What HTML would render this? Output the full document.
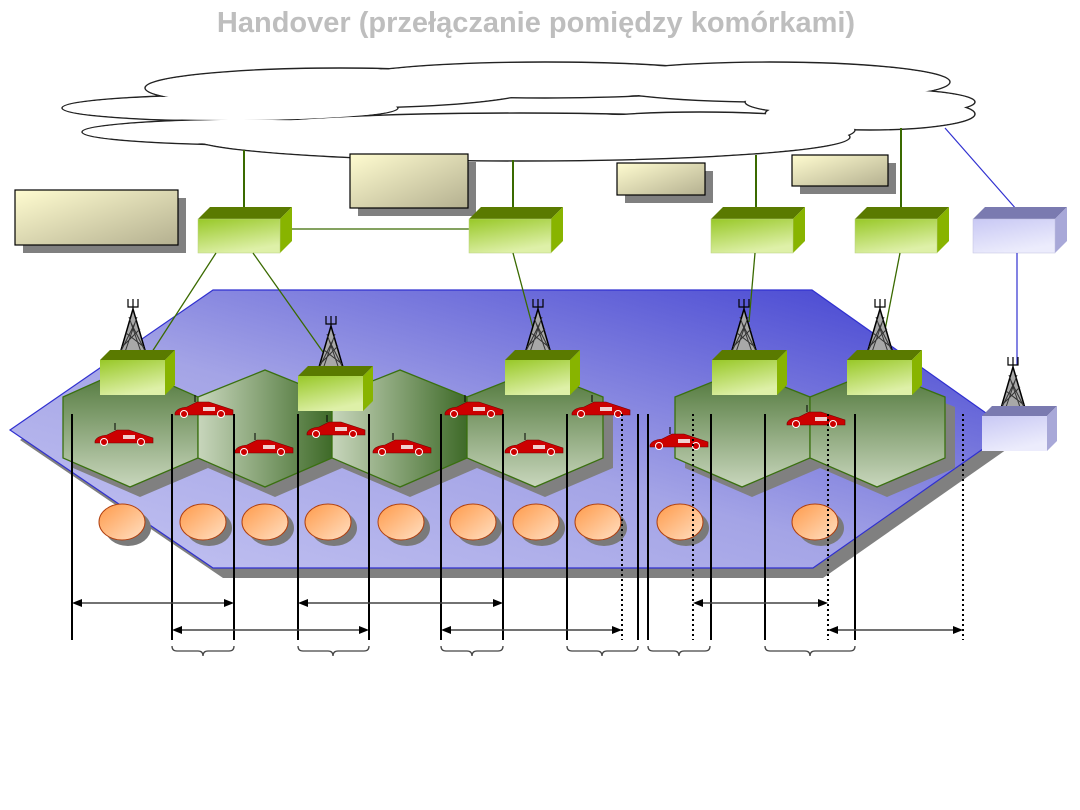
<!DOCTYPE html>
<html><head><meta charset="utf-8"><style>
html,body{margin:0;padding:0;background:#fff;width:1080px;height:810px;overflow:hidden}
</style></head><body>
<svg width="1080" height="810" viewBox="0 0 1080 810" xmlns="http://www.w3.org/2000/svg">
<defs>
<linearGradient id="plane" x1="0" y1="1" x2="1" y2="0">
<stop offset="0" stop-color="#c4c4f2"/><stop offset="0.45" stop-color="#a4a4e6"/><stop offset="1" stop-color="#3c3cd0"/></linearGradient>
<linearGradient id="hexv" x1="0" y1="0" x2="0" y2="1">
<stop offset="0" stop-color="#4c7436"/><stop offset="1" stop-color="#c8d6bc"/></linearGradient>
<linearGradient id="hexh" x1="0" y1="0" x2="1" y2="0">
<stop offset="0" stop-color="#c8d6bc"/><stop offset="1" stop-color="#3e6a28"/></linearGradient>
<linearGradient id="gfront" x1="0" y1="0" x2="0.4" y2="1">
<stop offset="0" stop-color="#98c828"/><stop offset="1" stop-color="#def0a8"/></linearGradient>
<linearGradient id="bfront" x1="0" y1="0" x2="0.4" y2="1">
<stop offset="0" stop-color="#c8c8f4"/><stop offset="1" stop-color="#ececfc"/></linearGradient>
<linearGradient id="note" x1="0" y1="0" x2="1" y2="1">
<stop offset="0" stop-color="#fffcd0"/><stop offset="1" stop-color="#b4b090"/></linearGradient>
<linearGradient id="orange" x1="0" y1="0" x2="1" y2="1">
<stop offset="0" stop-color="#ff9a4a"/><stop offset="1" stop-color="#ffe0c4"/></linearGradient>
<g id="gbox">
<polygon points="0,12 12,0 94,0 82,12" fill="#5a7a00"/>
<polygon points="82,12 94,0 94,34 82,46" fill="#88b400"/>
<rect x="0" y="12" width="82" height="34" fill="url(#gfront)" stroke="#b8d080" stroke-width="0.5"/>
</g>
<g id="gbox2">
<polygon points="0,10 10,0 75,0 65,10" fill="#5a7a00"/>
<polygon points="65,10 75,0 75,35 65,45" fill="#88b400"/>
<rect x="0" y="10" width="65" height="35" fill="url(#gfront)"/>
</g>
<g id="tower">
<polygon points="0,-48 -14,0 14,0" fill="#a8a8a8" stroke="#000" stroke-width="1.5"/>
<path d="M-11,-10 L7,-28 M-7,-24 L11,-10 M-9,-2 L4,-40 M9,-2 L-4,-40 M-12,-6 L2,-34 M12,-6 L-2,-34" stroke="#333" stroke-width="1" fill="none"/>
<path d="M0,-48 V-58 M-5,-58 V-50 H5 V-58" stroke="#000" stroke-width="1.2" fill="none"/>
</g>
<g id="car">
<path d="M0,8 Q2,3 12,2 L22,-3 L34,-3 L58,5 L58,10 L0,10 Z" fill="#cc0000" stroke="#700" stroke-width="0.6"/>
<rect x="28" y="2" width="12" height="4" fill="#f0d0d0"/>
<circle cx="9" cy="9" r="3.5" fill="#c00" stroke="#fff" stroke-width="1"/>
<circle cx="46" cy="9" r="3.5" fill="#c00" stroke="#fff" stroke-width="1"/>
<line x1="20" y1="-3" x2="20" y2="-10" stroke="#000"/>
</g>
<g id="egg">
<ellipse cx="6" cy="6" rx="23" ry="18" fill="#7a7a7a"/>
<ellipse cx="0" cy="0" rx="23" ry="18" fill="url(#orange)" stroke="#b04010" stroke-width="1"/>
</g>
</defs>

<text x="536" y="32" text-anchor="middle" font-family="Liberation Sans, sans-serif" font-weight="bold" font-size="29" fill="#bebebe">Handover (przełączanie pomiędzy komórkami)</text>

<!-- cloud -->
<g stroke="#222" stroke-width="1.4" fill="#fff">
<ellipse cx="230" cy="108" rx="168" ry="13"/>
<ellipse cx="260" cy="132" rx="178" ry="13"/>
<ellipse cx="340" cy="88" rx="195" ry="20"/>
<ellipse cx="545" cy="80" rx="200" ry="18"/>
<ellipse cx="770" cy="82" rx="180" ry="20"/>
<ellipse cx="860" cy="102" rx="115" ry="14"/>
<ellipse cx="870" cy="114" rx="105" ry="16"/>
<ellipse cx="520" cy="137" rx="330" ry="24"/>
<ellipse cx="700" cy="130" rx="155" ry="18"/>
</g>
<g fill="#fff">
<ellipse cx="230" cy="108" rx="167" ry="12"/>
<ellipse cx="260" cy="132" rx="177" ry="12"/>
<ellipse cx="340" cy="88" rx="194" ry="19"/>
<ellipse cx="545" cy="80" rx="199" ry="17"/>
<ellipse cx="770" cy="82" rx="179" ry="19"/>
<ellipse cx="860" cy="102" rx="114" ry="13"/>
<ellipse cx="870" cy="114" rx="104" ry="15"/>
<ellipse cx="520" cy="137" rx="329" ry="23"/>
<ellipse cx="700" cy="130" rx="154" ry="17"/>
</g>

<!-- connectors top -->
<g stroke="#3a6a00" stroke-width="2">
<line x1="244" y1="150" x2="244" y2="210"/>
<line x1="513" y1="160" x2="513" y2="210"/>
<line x1="756" y1="155" x2="756" y2="210"/>
<line x1="901" y1="128" x2="901" y2="210"/>
</g>
<line x1="280" y1="229" x2="469" y2="229" stroke="#3a6a00" stroke-width="1.2"/>
<line x1="945" y1="128" x2="1017" y2="210" stroke="#3030d0" stroke-width="1.2"/>

<!-- notes -->
<rect x="23" y="198" width="163" height="55" fill="#808080"/>
<rect x="15" y="190" width="163" height="55" fill="url(#note)" stroke="#000" stroke-width="1.2"/>
<rect x="358" y="162" width="118" height="54" fill="#808080"/>
<rect x="350" y="154" width="118" height="54" fill="url(#note)" stroke="#000" stroke-width="1.2"/>
<rect x="625" y="171" width="88" height="32" fill="#808080"/>
<rect x="617" y="163" width="88" height="32" fill="url(#note)" stroke="#000" stroke-width="1.2"/>
<rect x="800" y="163" width="96" height="31" fill="#808080"/>
<rect x="792" y="155" width="96" height="31" fill="url(#note)" stroke="#000" stroke-width="1.2"/>

<!-- plane -->
<polygon points="20,440 223,300 822,300 1020,440 823,578 223,578" fill="#808080"/>
<polygon points="10,430 213,290 812,290 1010,430 813,568 213,568" fill="url(#plane)" stroke="#3030d0" stroke-width="1.2"/>

<!-- hex shadows -->
<g fill="#808080">
<polygon points="73,407 140,377 207,407 208,468 140,497 73,468"/>
<polygon points="208,407 275,380 342,407 342,468 275,497 208,468"/>
<polygon points="342,407 410,380 477,407 477,468 410,497 342,468"/>
<polygon points="477,407 545,380 613,407 613,468 545,497 477,468"/>
<polygon points="685,407 752,380 820,407 820,468 752,497 685,468"/>
<polygon points="820,407 887,380 955,407 955,468 887,497 820,468"/>
</g>
<g stroke="#3a7010" stroke-width="1.3">
<polygon points="63,397 130,367 198,397 198,458 130,487 63,458" fill="url(#hexv)"/>
<polygon points="198,397 265,370 332,397 332,458 265,487 198,458" fill="url(#hexh)"/>
<polygon points="332,397 400,370 467,397 467,458 400,487 332,458" fill="url(#hexh)"/>
<polygon points="467,397 535,370 603,397 603,458 535,487 467,458" fill="url(#hexv)"/>
<polygon points="675,397 742,370 810,397 810,458 742,487 675,458" fill="url(#hexv)"/>
<polygon points="810,397 877,370 945,397 945,458 877,487 810,458" fill="url(#hexv)"/>
</g>

<!-- upper boxes -->
<use href="#gbox" x="198" y="207"/>
<use href="#gbox" x="469" y="207"/>
<use href="#gbox" x="711" y="207"/>
<use href="#gbox" x="855" y="207"/>
<g transform="translate(973,207)">
<polygon points="0,12 12,0 94,0 82,12" fill="#7a7ab0"/>
<polygon points="82,12 94,0 94,34 82,46" fill="#a8a8d8"/>
<rect x="0" y="12" width="82" height="34" fill="url(#bfront)" stroke="#c0c0e0" stroke-width="0.5"/>
</g>

<!-- lines to towers -->
<g stroke="#3a6a00" stroke-width="1.3">
<line x1="216" y1="253" x2="150" y2="355"/>
<line x1="253" y1="253" x2="323" y2="352"/>
<line x1="513" y1="253" x2="533" y2="328"/>
<line x1="755" y1="253" x2="749" y2="322"/>
<line x1="900" y1="253" x2="885" y2="330"/>
</g>
<line x1="1017" y1="253" x2="1017" y2="365" stroke="#3030d0" stroke-width="1.2"/>

<!-- towers -->
<use href="#tower" x="133" y="357"/>
<use href="#tower" x="331" y="374"/>
<use href="#tower" x="538" y="357"/>
<use href="#tower" x="744" y="357"/>
<use href="#tower" x="880" y="357"/>
<use href="#tower" x="1013" y="415"/>

<!-- lower boxes -->
<use href="#gbox2" x="100" y="350"/>
<use href="#gbox2" x="298" y="366"/>
<use href="#gbox2" x="505" y="350"/>
<use href="#gbox2" x="712" y="350"/>
<use href="#gbox2" x="847" y="350"/>
<g transform="translate(982,406)">
<polygon points="0,10 10,0 75,0 65,10" fill="#7a7ab0"/>
<polygon points="65,10 75,0 75,35 65,45" fill="#a8a8d8"/>
<rect x="0" y="10" width="65" height="35" fill="url(#bfront)"/>
</g>

<!-- eggs -->
<use href="#egg" x="122" y="522"/>
<use href="#egg" x="203" y="522"/>
<use href="#egg" x="265" y="522"/>
<use href="#egg" x="328" y="522"/>
<use href="#egg" x="401" y="522"/>
<use href="#egg" x="473" y="522"/>
<use href="#egg" x="536" y="522"/>
<use href="#egg" x="598" y="522"/>
<use href="#egg" x="680" y="522"/>
<use href="#egg" x="815" y="522"/>

<!-- cars -->
<use href="#car" x="95" y="433"/>
<use href="#car" x="175" y="405"/>
<use href="#car" x="235" y="443"/>
<use href="#car" x="307" y="425"/>
<use href="#car" x="373" y="443"/>
<use href="#car" x="445" y="405"/>
<use href="#car" x="505" y="443"/>
<use href="#car" x="572" y="405"/>
<use href="#car" x="650" y="437"/>
<use href="#car" x="787" y="415"/>

<!-- vertical lines -->
<g stroke="#000" stroke-width="2">
<line x1="72" y1="414" x2="72" y2="640"/><line x1="172" y1="414" x2="172" y2="640"/>
<line x1="234" y1="414" x2="234" y2="640"/><line x1="298" y1="414" x2="298" y2="640"/>
<line x1="369" y1="414" x2="369" y2="640"/><line x1="441" y1="414" x2="441" y2="640"/>
<line x1="503" y1="414" x2="503" y2="640"/><line x1="567" y1="414" x2="567" y2="640"/>
<line x1="638" y1="414" x2="638" y2="640"/><line x1="648" y1="414" x2="648" y2="640"/>
<line x1="711" y1="414" x2="711" y2="640"/><line x1="765" y1="414" x2="765" y2="640"/>
<line x1="855" y1="414" x2="855" y2="640"/>
</g>
<g stroke="#000" stroke-width="2" stroke-dasharray="2,3">
<line x1="622" y1="414" x2="622" y2="640"/><line x1="693" y1="414" x2="693" y2="640"/>
<line x1="828" y1="414" x2="828" y2="640"/><line x1="963" y1="414" x2="963" y2="640"/>
</g>

<!-- arrows -->
<g stroke="#444" stroke-width="1.5" fill="#000">
<line x1="80" y1="603" x2="226" y2="603"/><polygon points="72,603 82,599 82,607" stroke="none"/><polygon points="234,603 224,599 224,607" stroke="none"/>
<line x1="306" y1="603" x2="495" y2="603"/><polygon points="298,603 308,599 308,607" stroke="none"/><polygon points="503,603 493,599 493,607" stroke="none"/>
<line x1="701" y1="603" x2="820" y2="603"/><polygon points="693,603 703,599 703,607" stroke="none"/><polygon points="828,603 818,599 818,607" stroke="none"/>
<line x1="180" y1="630" x2="361" y2="630"/><polygon points="172,630 182,626 182,634" stroke="none"/><polygon points="369,630 359,626 359,634" stroke="none"/>
<line x1="449" y1="630" x2="614" y2="630"/><polygon points="441,630 451,626 451,634" stroke="none"/><polygon points="622,630 612,626 612,634" stroke="none"/>
<line x1="836" y1="630" x2="955" y2="630"/><polygon points="828,630 838,626 838,634" stroke="none"/><polygon points="963,630 953,626 953,634" stroke="none"/>
</g>

<!-- braces -->
<g stroke="#444" stroke-width="1.3" fill="none">
<path d="M172,646 q0,5 5,5 h21 q5,0 5,5 q0,-5 5,-5 h21 q5,0 5,-5"/>
<path d="M298,646 q0,5 5,5 h25 q5,0 5,5 q0,-5 5,-5 h26 q5,0 5,-5"/>
<path d="M441,646 q0,5 5,5 h21 q5,0 5,5 q0,-5 5,-5 h21 q5,0 5,-5"/>
<path d="M567,646 q0,5 5,5 h25 q5,0 5,5 q0,-5 5,-5 h26 q5,0 5,-5"/>
<path d="M648,646 q0,5 5,5 h21 q5,0 5,5 q0,-5 5,-5 h21 q5,0 5,-5"/>
<path d="M765,646 q0,5 5,5 h35 q5,0 5,5 q0,-5 5,-5 h35 q5,0 5,-5"/>
</g>
</svg>
</body></html>
